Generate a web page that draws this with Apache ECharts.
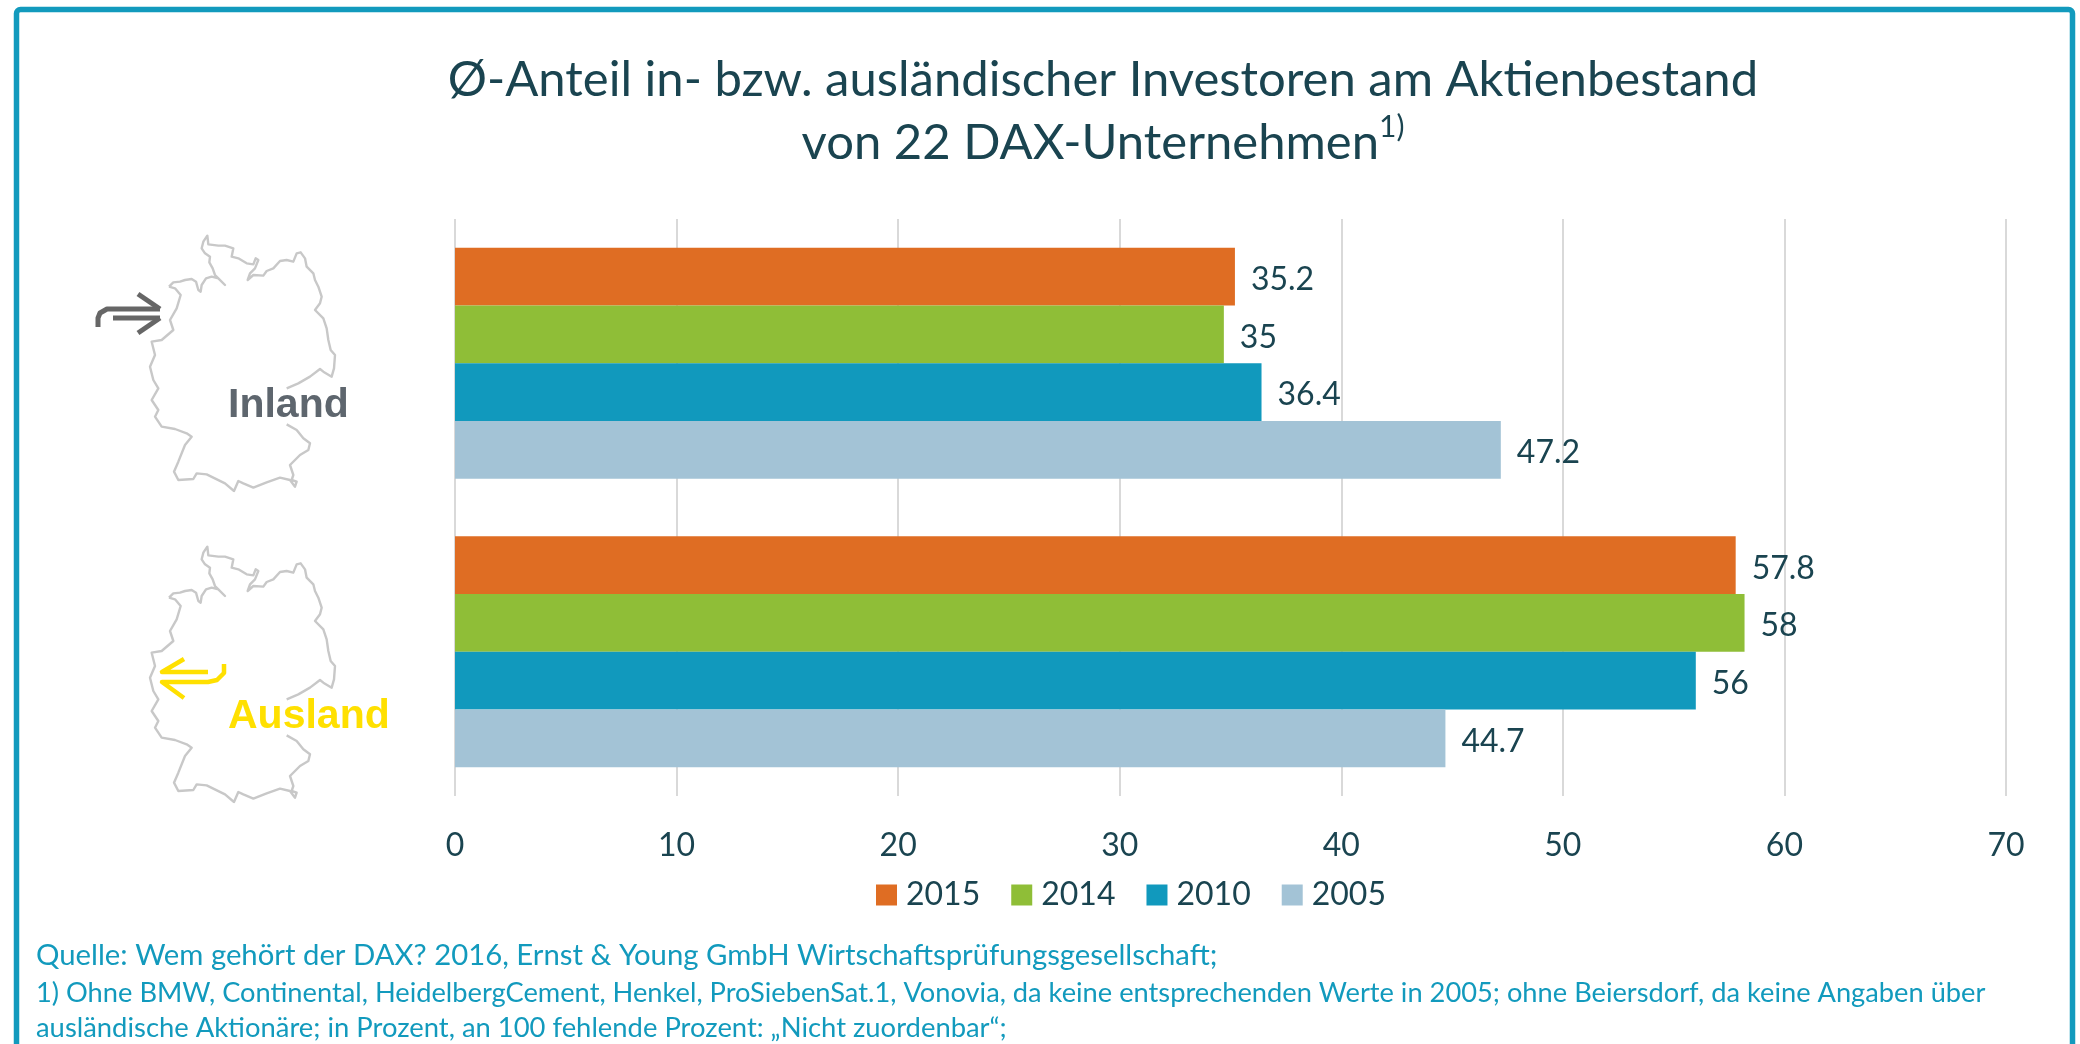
<!DOCTYPE html>
<html>
<head>
<meta charset="utf-8">
<style>html,body{margin:0;padding:0;background:#fff}#c{width:2080px;height:1044px}</style>
<script src="https://cdn.jsdelivr.net/npm/echarts@6/dist/echarts.min.js"></script>
</head>
<body>
<div id="c"></div>
<script>
// Data
const categories = ['Inland', 'Ausland'];
const years = ['2015', '2014', '2010', '2005'];
const v2015 = [35.2, 57.8];
const v2014 = [34.7, 58.2];
const v2010 = [36.4, 56];
const v2005 = [47.2, 44.7];
const l2015 = ['35.2', '57.8'];
const l2014 = ['35', '58'];
const l2010 = ['36.4', '56'];
const l2005 = ['47.2', '44.7'];
const xTicks = [0, 10, 20, 30, 40, 50, 60, 70];
const titleText = 'Ø-Anteil in- bzw. ausländischer Investoren am Aktienbestand\nvon 22 DAX-Unternehmen{sup|1)}';
const notes = [
  'Quelle: Wem gehört der DAX? 2016, Ernst & Young GmbH Wirtschaftsprüfungsgesellschaft;',
  '1) Ohne BMW, Continental, HeidelbergCement, Henkel, ProSiebenSat.1, Vonovia, da keine entsprechenden Werte in 2005; ohne Beiersdorf, da keine Angaben über',
  'ausländische Aktionäre; in Prozent, an 100 fehlende Prozent: „Nicht zuordenbar“;'
];
// Decoration: traced outline of the map icon (crop coordinates, 3x)
const mapNorth = [[237,185],[250,172],[270,170],[285,165],[305,162],[318,170],[325,195],[332,200],[335,180],[348,160],[365,155],[385,160],[405,180],[385,160],[375,150],[368,130],[358,112],[360,95],[345,85],[335,70],[340,50],[352,32],[355,58],[385,62],[405,62],[430,70],[425,95],[445,100],[470,115],[490,118],[497,100],[505,105],[495,130],[480,145],[473,165],[490,150],[520,152],[530,138],[550,130],[570,108],[590,105],[610,110],[620,85],[632,82],[645,100],[650,125],[670,145],[675,165],[685,185],[695,215],[690,235],[675,255],[700,280],[710,310],[715,345],[722,375],[735,390],[732,430],[725,455],[700,440],[690,432],[660,455],[625,475],[590,490]];
const mapSouth = [[590,598],[620,615],[640,640],[660,655],[655,675],[630,690],[600,720],[610,750],[605,765],[620,770],[615,785],[600,765],[570,758],[530,772],[490,788],[460,775],[445,768],[432,798],[405,775],[350,748],[320,745],[310,762],[265,765],[252,740],[265,710],[285,660],[305,635],[290,625],[255,612],[215,605],[195,575],[205,555],[185,525],[205,490],[190,465],[180,425],[195,390],[185,350],[215,345],[250,315],[240,285],[260,250],[272,210],[255,190],[237,185]];

const ink = '#1a4450', teal = '#129abd', mapGrey = '#c8c8c8';
const fam = 'Lato, "Open Sans", sans-serif';

function mapPts(list, dy) { return list.map(p => [90 + p[0] / 3, 225 + p[1] / 3 + dy]); }
function line(points, stroke, lineWidth, z) {
  return { type: 'polyline', silent: true, z: z || 10, shape: { points }, style: { stroke, lineWidth, fill: null, lineJoin: 'round', lineCap: 'butt' } };
}
function txt(text, x, y, fontSize, fill, extra) {
  return { type: 'text', silent: true, z: 11, x, y, style: Object.assign({ text, fontSize, fontFamily: fam, fill, verticalAlign: 'middle' }, extra || {}) };
}
const MAP_DY = 311;
const graphics = [
  { type: 'rect', silent: true, z: 0, shape: { x: 16.5, y: 9.5, width: 2056, height: 1100, r: 4 }, style: { fill: '#fff', stroke: teal, lineWidth: 5.5 } },
  line(mapPts(mapNorth, 0), mapGrey, 2.4), line(mapPts(mapSouth, 0), mapGrey, 2.4),
  line(mapPts(mapNorth, MAP_DY), mapGrey, 2.4), line(mapPts(mapSouth, MAP_DY), mapGrey, 2.4),
  // Inland arrow
  line([[98,327],[98,318],[100,313],[107,309],[160,309]], '#666', 5),
  line([[113,318],[160,318]], '#666', 5),
  line([[138,294],[160,309]], '#666', 5),
  line([[160,318],[138,333]], '#666', 5),
  // Ausland arrow
  line([[184,659],[162,672],[208,672]], '#ffe000', 4.5),
  line([[224,664],[224,673],[217,680],[208,682],[162,682],[184,698]], '#ffe000', 4.5),
  txt(categories[0], 228, 406, 41, '#5e666e', { fontFamily: '"Liberation Sans", Arial, sans-serif', fontWeight: 'bold' }),
  txt(categories[1], 228, 717, 41, '#ffe000', { fontFamily: '"Liberation Sans", Arial, sans-serif', fontWeight: 'bold' }),
  txt(notes[0], 36, 956, 29.3, teal),
  txt(notes[1], 36, 993, 27.25, teal),
  txt(notes[2], 36, 1028, 27.4, teal)
];

function series(name, values, labels, color) {
  return {
    name, type: 'bar', data: values, barGap: 0, barCategoryGap: '20%',
    itemStyle: { color },
    label: {
      show: true, position: 'right', distance: 16, offset: [0, 3], color: ink, fontSize: 32, fontFamily: fam,
      formatter: p => labels[p.dataIndex]
    }
  };
}

const chart = echarts.init(document.getElementById('c'), null, { renderer: 'canvas' });
chart.setOption({
  animation: false,
  backgroundColor: '#fff',
  title: {
    text: titleText, left: 1098, top: 44, textAlign: 'center',
    textStyle: {
      color: ink, fontSize: 49, fontWeight: 'normal', fontFamily: fam, lineHeight: 63,
      rich: { sup: { fontSize: 30, color: ink, fontFamily: fam, verticalAlign: 'top', lineHeight: 40, padding: [0, 0, 18, 0] } }
    }
  },
  legend: {
    data: years, left: 871, top: 874, icon: 'rect', itemWidth: 21, itemHeight: 21, itemGap: 31, selectedMode: false,
    textStyle: { color: ink, fontSize: 32, fontFamily: fam, padding: [0, 0, 0, 4] }
  },
  grid: { left: 455, top: 219, width: 1551, height: 577, containLabel: false },
  xAxis: {
    type: 'value', min: xTicks[0], max: xTicks[xTicks.length - 1], interval: xTicks[1] - xTicks[0],
    axisLine: { show: false }, axisTick: { show: false },
    splitLine: { show: true, lineStyle: { color: '#d9d9d9', width: 2 } },
    axisLabel: { color: ink, fontSize: 32, fontFamily: fam, margin: 34 }
  },
  yAxis: {
    type: 'category', data: categories, inverse: true,
    axisLine: { show: false }, axisTick: { show: false }, axisLabel: { show: false }
  },
  series: [
    series(years[0], v2015, l2015, '#df6d23'),
    series(years[1], v2014, l2014, '#8fbe37'),
    series(years[2], v2010, l2010, '#1199bd'),
    series(years[3], v2005, l2005, '#a3c3d6')
  ],
  graphic: graphics
});
</script>
</body>
</html>
